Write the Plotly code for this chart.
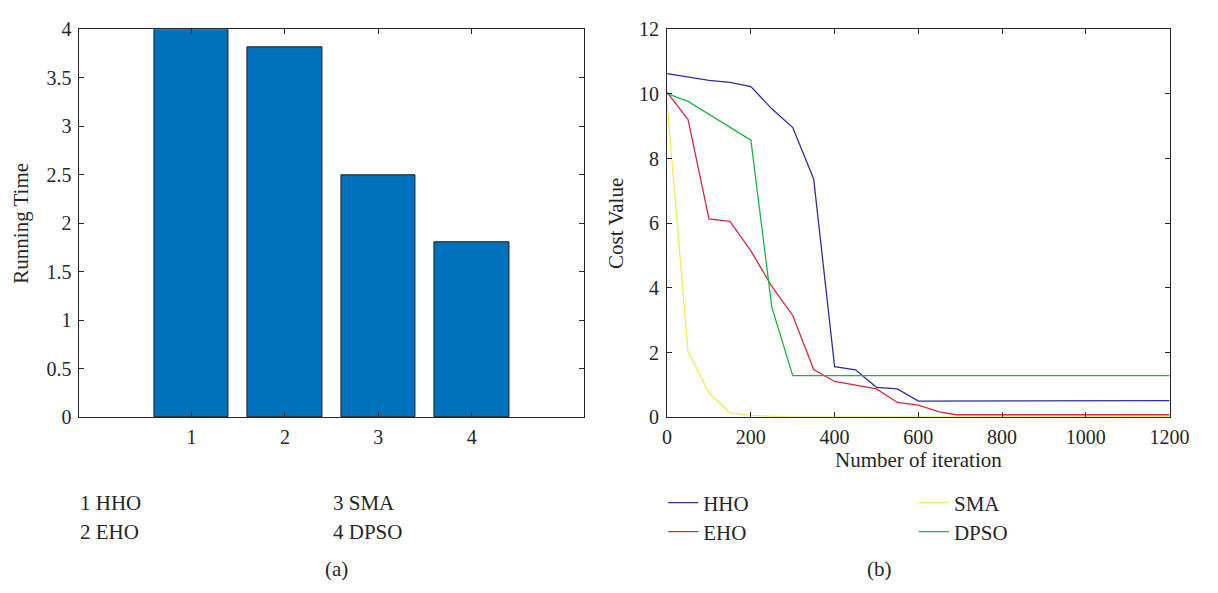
import plotly.graph_objects as go

# ---- data ----
bar_x = [1, 2, 3, 4]
run_time = [4.0, 3.81, 2.5, 1.8]
bar_names = ["1 HHO", "2 EHO", "3 SMA", "4 DPSO"]

hho_x = [0, 50, 100, 150, 200, 250, 300, 350, 400, 450, 500, 550, 600, 1200]
hho_y = [10.63, 10.52, 10.42, 10.36, 10.23, 9.54, 8.96, 7.37, 1.57, 1.47, 0.93, 0.88, 0.50, 0.52]

eho_x = [0, 50, 100, 150, 200, 250, 300, 350, 400, 450, 500, 550, 600, 650, 690, 1200]
eho_y = [10.05, 9.21, 6.14, 6.06, 5.15, 4.05, 3.15, 1.48, 1.11, 1.0, 0.88, 0.46, 0.38, 0.17, 0.08, 0.08]

sma_x = [0, 50, 100, 150, 200, 300, 1200]
sma_y = [9.69, 2.04, 0.75, 0.14, 0.06, 0.01, 0.02]

dpso_x = [0, 50, 200, 250, 300, 1200]
dpso_y = [10.01, 9.77, 8.57, 3.41, 1.29, 1.29]

W, H = 1218, 593
FONT = "Liberation Serif"
TXT = "#262626"
TICK_SIZE = 20
TITLE_SIZE = 21

def px(x):
    return x / W

def py(y):
    return 1 - y / H

fig = go.Figure()

fig.add_trace(go.Bar(
    x=bar_x, y=run_time, width=0.8,
    marker=dict(color="#0072BD", line=dict(color="#1a1a1a", width=1)),
    xaxis="x", yaxis="y", showlegend=False,
))

series = [
    ("HHO", hho_x, hho_y, "#2e2e9e", "legend"),
    ("EHO", eho_x, eho_y, "#d62843", "legend2"),
    ("SMA", sma_x, sma_y, "#f0ec55", "legend3"),
    ("DPSO", dpso_x, dpso_y, "#1db344", "legend4"),
]
for name, xs, ys, col, lg in series:
    fig.add_trace(go.Scatter(
        x=xs, y=ys, mode="lines", name=name,
        line=dict(color=col, width=1.3),
        xaxis="x2", yaxis="y2", legend=lg,
    ))

axis_common = dict(
    showline=True, linecolor=TXT, linewidth=1, mirror="ticks",
    ticks="inside", ticklen=5, tickcolor=TXT, showgrid=False, zeroline=False,
    tickfont=dict(family=FONT, size=TICK_SIZE, color=TXT),
)

ytop, ybot = py(19), py(422)
title_font = dict(family=FONT, size=TITLE_SIZE, color=TXT)

def leg(x, y):
    return dict(x=px(x), y=py(y), xanchor="left", yanchor="middle",
                bgcolor="rgba(0,0,0,0)", font=dict(family=FONT, size=TITLE_SIZE, color=TXT),
                itemwidth=30, tracegroupgap=0)

fig.update_layout(
    width=W, height=H,
    margin=dict(l=0, r=0, t=0, b=0),
    paper_bgcolor="white", plot_bgcolor="white",
    font=dict(family=FONT, size=TICK_SIZE, color=TXT),
    bargap=0,
    xaxis=dict(domain=[px(76), px(591)], range=[-0.2, 5.2], tickvals=bar_x,
               anchor="y", ticklabelstandoff=2, **axis_common),
    yaxis=dict(domain=[ybot, ytop], range=[0, 4], tickvals=[0, 0.5, 1, 1.5, 2, 2.5, 3, 3.5, 4],
               ticktext=["0", "0.5", "1", "1.5", "2", "2.5", "3", "3.5", "4"],
               anchor="x", ticklabelstandoff=3,
               title=dict(text="Running Time", font=title_font, standoff=12),
               **axis_common),
    xaxis2=dict(domain=[px(676), px(1189)], range=[0, 1200], tickvals=[0, 200, 400, 600, 800, 1000, 1200],
                anchor="y2", ticklabelstandoff=2,
                title=dict(text="Number of iteration", font=title_font, standoff=4),
                **axis_common),
    yaxis2=dict(domain=[ybot, ytop], range=[0, 12], tickvals=[0, 2, 4, 6, 8, 10, 12],
                anchor="x2", ticklabelstandoff=3,
                title=dict(text="Cost Value", font=title_font, standoff=9),
                **axis_common),
    legend=leg(672, 511),
    legend2=leg(672, 541),
    legend3=leg(928, 511),
    legend4=leg(928, 541),
)

ann_pos = [(75, 511), (75, 541), (333, 511), (333, 541)]
for txt, (ax, ay) in zip(bar_names, ann_pos):
    fig.add_annotation(x=px(ax), y=py(ay), xref="paper", yref="paper", text=txt,
                       showarrow=False, xanchor="left", yanchor="middle",
                       font=dict(family=FONT, size=TITLE_SIZE, color=TXT))

for txt, cx in [("(a)", 338), ("(b)", 893)]:
    fig.add_annotation(x=px(cx), y=py(579), xref="paper", yref="paper", text=txt,
                       showarrow=False, xanchor="center", yanchor="middle",
                       font=dict(family=FONT, size=TITLE_SIZE, color=TXT))

fig.write_html("out.html")
